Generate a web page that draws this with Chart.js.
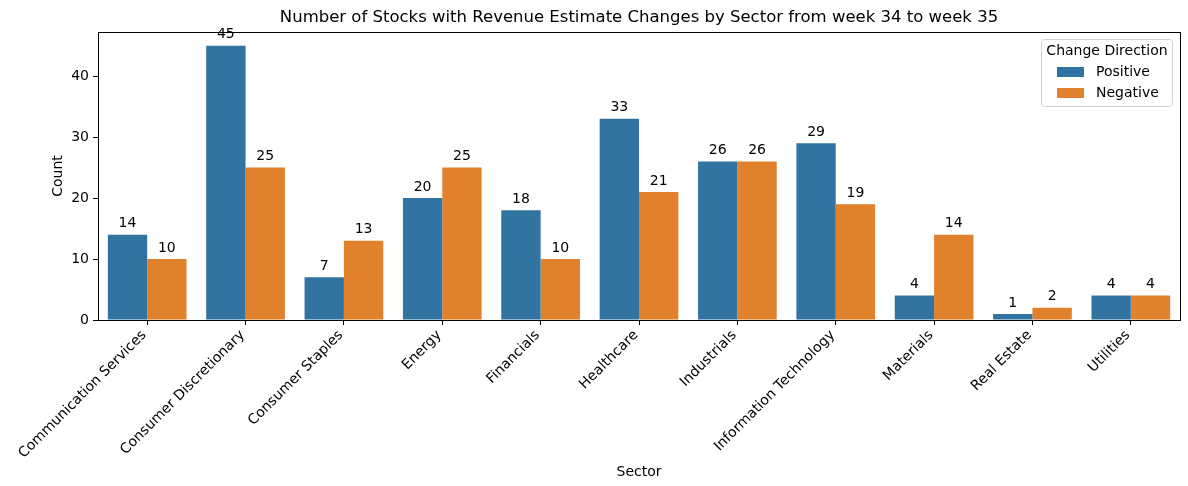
<!DOCTYPE html>
<html>
<head>
<meta charset="utf-8">
<script src="https://cdn.jsdelivr.net/npm/chart.js@4.4.1/dist/chart.umd.min.js"></script>
<style>
  html, body { margin: 0; padding: 0; background: #fff; }
  #wrap { width: 1188px; height: 486px; }
</style>
</head>
<body>
<div id="wrap"><canvas id="sectorChart" width="1188" height="486"></canvas></div>
<script>
const sectors = [
  'Communication Services', 'Consumer Discretionary', 'Consumer Staples', 'Energy',
  'Financials', 'Healthcare', 'Industrials', 'Information Technology',
  'Materials', 'Real Estate', 'Utilities'
];
const positive = [14, 45, 7, 20, 18, 33, 26, 29, 4, 1, 4];
const negative = [10, 25, 13, 25, 10, 21, 26, 19, 14, 2, 4];
const yTicks = [0, 10, 20, 30, 40];

const FONT = 'DejaVu Sans';
const blue = '#3274a1';
const orange = '#e1812c';

// labels, frame, titles and legend drawn on top
const extras = {
  id: 'extras',
  afterDatasetsDraw(chart) {
    const c = chart.ctx;
    const area = chart.chartArea;
    c.save();

    // bar value labels
    c.fillStyle = '#000';
    c.font = '14px "' + FONT + '"';
    c.textAlign = 'center';
    c.textBaseline = 'bottom';
    chart.data.datasets.forEach((ds, i) => {
      chart.getDatasetMeta(i).data.forEach((bar, j) => {
        c.fillText(String(ds.data[j]), bar.x, bar.y - 4);
      });
    });

    // frame
    c.strokeStyle = '#000';
    c.lineWidth = 1;
    c.strokeRect(Math.round(area.left) + 0.5, Math.round(area.top) + 0.5,
      Math.round(area.right - area.left), Math.round(area.bottom - area.top));

    // title
    const cx = (area.left + area.right) / 2;
    c.font = '16.5px "' + FONT + '"';
    c.textBaseline = 'middle';
    c.fillText('Number of Stocks with Revenue Estimate Changes by Sector from week 34 to week 35', cx, 18);

    // axis titles
    c.font = '14px "' + FONT + '"';
    c.fillText('Sector', cx, 472);
    c.save();
    c.translate(58, (area.top + area.bottom) / 2);
    c.rotate(-Math.PI / 2);
    c.fillText('Count', 0, 0);
    c.restore();

    // legend
    const lx = 1041.5, ly = 39.5, lw = 131, lh = 67;
    c.fillStyle = 'rgba(255,255,255,0.8)';
    c.strokeStyle = '#d0d0d0';
    c.beginPath();
    c.roundRect(lx, ly, lw, lh, 3);
    c.fill();
    c.stroke();
    c.fillStyle = '#000';
    c.textAlign = 'center';
    c.fillText('Change Direction', lx + lw / 2, 51);
    c.textAlign = 'left';
    [['Positive', blue, 72], ['Negative', orange, 93]].forEach(([name, col, y]) => {
      c.fillStyle = col;
      c.fillRect(1057, y - 5, 27, 10);
      c.fillStyle = '#000';
      c.fillText(name, 1096, y);
    });

    c.restore();
  }
};

const ctx = document.getElementById('sectorChart').getContext('2d');
const sectorChart = new Chart(ctx, {
  type: 'bar',
  data: {
    labels: sectors,
    datasets: [
      { label: 'Positive', data: positive, backgroundColor: blue },
      { label: 'Negative', data: negative, backgroundColor: orange }
    ]
  },
  options: {
    responsive: false,
    animation: false,
    devicePixelRatio: 1,
    layout: { padding: { top: 32, right: 8, left: 0, bottom: 0 } },
    datasets: { bar: { categoryPercentage: 0.8, barPercentage: 1.0 } },
    plugins: {
      legend: { display: false },
      title: { display: false },
      tooltip: { enabled: false }
    },
    scales: {
      x: {
        offset: true,
        grid: { display: true, drawOnChartArea: false, drawTicks: true, tickLength: 5, color: '#000', offset: false },
        border: { display: true, color: '#000' },
        ticks: {
          autoSkip: false, maxRotation: 45, minRotation: 45, padding: 2, labelOffset: -3,
          color: '#000', font: { family: FONT, size: 14 }
        },
        afterFit(scale) { scale.height = 166; }
      },
      y: {
        min: 0,
        max: 47.25,
        afterBuildTicks(scale) { scale.ticks = yTicks.map(v => ({ value: v })); },
        grid: { display: true, drawOnChartArea: false, drawTicks: true, tickLength: 5, color: '#000' },
        border: { display: true, color: '#000' },
        ticks: { padding: 4, color: '#000', font: { family: FONT, size: 14 } },
        afterFit(scale) { scale.width = 98; }
      }
    }
  },
  plugins: [extras]
});
</script>
</body>
</html>
